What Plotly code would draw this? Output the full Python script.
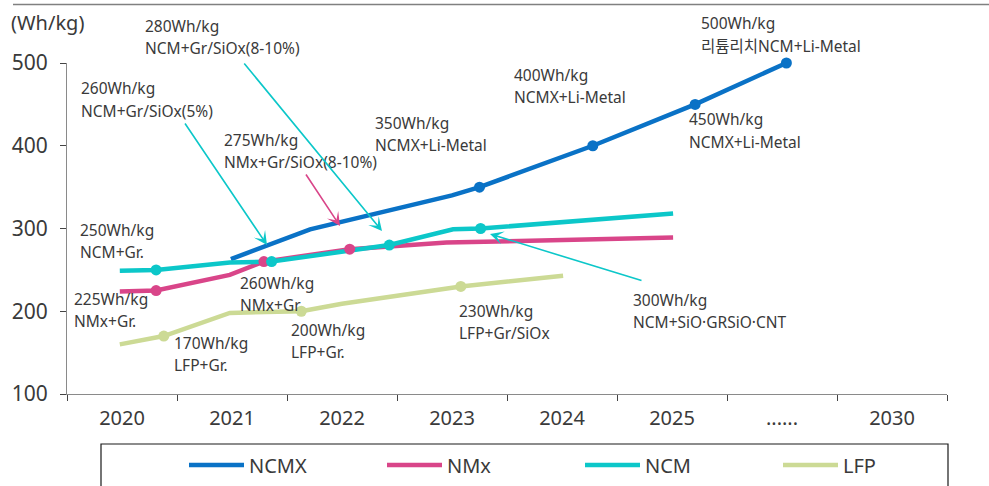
import plotly.graph_objects as go

# ---------------------------------------------------------------- data
years = ["2020", "2021", "2022", "2023", "2024", "2025", "......", "2030"]

# x is measured in year slots: 0 is the left edge of the 2020 slot, 1 slot per label
ncmx_x = [1.49, 2.21, 3.50, 3.75, 4.78, 5.71, 6.54]
ncmx_y = [263, 299, 340, 350, 400, 450, 500]
ncmx_pts = [3, 4, 5, 6]

nmx_x = [0.48, 0.81, 1.48, 1.79, 2.57, 3.45, 5.51]
nmx_y = [224, 225, 244, 260, 275, 283, 289]
nmx_pts = [1, 3, 4]

ncm_x = [0.48, 0.81, 1.48, 1.86, 2.93, 3.51, 3.76, 5.51]
ncm_y = [249, 250, 259, 260, 280, 299, 300, 318]
ncm_pts = [1, 3, 4, 6]

lfp_x = [0.48, 0.88, 1.48, 2.13, 2.50, 3.58, 4.51]
lfp_y = [160, 170, 198, 200, 209, 230, 243]
lfp_pts = [1, 3, 5]

series = [
    ("NCMX", ncmx_x, ncmx_y, ncmx_pts, "#0A72C6"),
    ("NMx", nmx_x, nmx_y, nmx_pts, "#D94589"),
    ("NCM", ncm_x, ncm_y, ncm_pts, "#0CC7C9"),
    ("LFP", lfp_x, lfp_y, lfp_pts, "#CCDA95"),
]

# callout texts (two lines each)
callouts = [
    ("250Wh/kg", "NCM+Gr."),
    ("225Wh/kg", "NMx+Gr."),
    ("170Wh/kg", "LFP+Gr."),
    ("260Wh/kg", "NMx+Gr"),
    ("200Wh/kg", "LFP+Gr."),
    ("230Wh/kg", "LFP+Gr/SiOx"),
    ("300Wh/kg", "NCM+SiO·GRSiO·CNT"),
    ("400Wh/kg", "NCMX+Li-Metal"),
    ("450Wh/kg", "NCMX+Li-Metal"),
    ("500Wh/kg", "리튬리치NCM+Li-Metal"),
    ("350Wh/kg", "NCMX+Li-Metal"),
    ("280Wh/kg", "NCM+Gr/SiOx(8-10%)"),
    ("260Wh/kg", "NCM+Gr/SiOx(5%)"),
    ("275Wh/kg", "NMx+Gr/SiOx(8-10%)"),
]

# ---------------------------------------------------------------- layout helpers
W, H = 989, 486
L, R, T, B = 67, 42, 63, 92
PW, PH = W - L - R, H - T - B
FONT = "Noto Sans, Noto Sans CJK KR, sans-serif"
TXT = "#3a3a3a"


def paper(px, py):
    return (px - L) / PW, (H - B - py) / PH


# left edge / first baseline of each callout, in screen pixels
callout_pos = [
    (78, 235), (72, 304), (172, 348), (238, 288), (289, 335), (457, 316),
    (631, 305), (512, 80), (687, 125), (699, 29), (373, 128), (143, 31),
    (79, 94), (222, 145),
]
LINE_GAP = 22.5

# arrows: (tail px, tip px, colour)
arrows = [
    ((184, 122), (267, 245), "#0CC7C9"),
    ((243, 62), (382, 231), "#0CC7C9"),
    ((305, 173), (340, 226), "#D94589"),
    ((643, 281), (490, 234), "#0CC7C9"),
]

fig = go.Figure()

for name, xs, ys, pts, col in series:
    fig.add_trace(go.Scatter(
        x=xs, y=ys, mode="lines", name=name,
        line=dict(color=col, width=4.5), cliponaxis=False,
    ))
for name, xs, ys, pts, col in series:
    fig.add_trace(go.Scatter(
        x=[xs[i] for i in pts], y=[ys[i] for i in pts], mode="markers",
        marker=dict(color=col, size=11), showlegend=False, cliponaxis=False,
        hoverinfo="skip",
    ))

annotations = []
for (l1, l2), (px, py) in zip(callouts, callout_pos):
    for k, line in enumerate((l1, l2)):
        xx, yy = paper(px, py + k * LINE_GAP - 5.5)
        annotations.append(dict(
            x=xx, y=yy, xref="paper", yref="paper", text=line,
            showarrow=False, xanchor="left", yanchor="middle",
            font=dict(family=FONT, size=15.5, color=TXT),
        ))

for (tx, ty), (hx, hy), col in arrows:
    xx, yy = paper(hx, hy)
    annotations.append(dict(
        x=xx, y=yy, xref="paper", yref="paper", text="",
        showarrow=True, ax=tx - hx, ay=ty - hy,
        arrowhead=3, arrowsize=1.4, arrowwidth=1.6, arrowcolor=col,
        standoff=0, startstandoff=0,
    ))

# unit caption
ux, uy = paper(9, 23)
annotations.append(dict(
    x=ux, y=uy, xref="paper", yref="paper", text="(Wh/kg)", showarrow=False,
    xanchor="left", yanchor="middle", font=dict(family=FONT, size=20, color=TXT),
))

shapes = []
# rule across the top
x0, y0 = paper(13, 4.5)
x1, _ = paper(989, 4.5)
shapes.append(dict(type="line", xref="paper", yref="paper", x0=x0, x1=x1,
                   y0=y0, y1=y0, line=dict(color="#808080", width=1.6)))
# legend frame
fx0, fy0 = paper(101, 444)
fx1, fy1 = paper(948, 500)
shapes.append(dict(type="rect", xref="paper", yref="paper", x0=fx0, x1=fx1,
                   y0=fy1, y1=fy0, line=dict(color="#1a1a1a", width=1.2),
                   fillcolor="rgba(0,0,0,0)"))

fig.update_layout(
    width=W, height=H,
    margin=dict(l=L, r=R, t=T, b=B, autoexpand=False),
    paper_bgcolor="white", plot_bgcolor="white",
    font=dict(family=FONT, color=TXT),
    showlegend=True,
    legend=dict(
        orientation="h",
        xref="container", yref="container",
        x=184 / W, y=1 - 465 / H, xanchor="left", yanchor="middle",
        font=dict(family=FONT, size=20, color=TXT),
        itemwidth=55, entrywidth=128, bgcolor="rgba(0,0,0,0)",
        itemclick=False, itemdoubleclick=False,
    ),
    annotations=annotations,
    shapes=shapes,
    xaxis=dict(
        range=[0, len(years)],
        tickmode="array",
        tickvals=[i + 0.5 for i in range(len(years))],
        ticktext=years,
        ticks="",
        ticklabelstandoff=6,
        showgrid=False, zeroline=False,
        showline=True, linecolor="#8a8a8a", linewidth=1.2,
        tickfont=dict(family=FONT, size=20, color=TXT),
        minor=dict(tickvals=list(range(len(years) + 1)), ticks="outside",
                   ticklen=6, tickcolor="#444", tickwidth=1.2, showgrid=False),
        fixedrange=True,
    ),
    yaxis=dict(
        range=[100, 500],
        tickmode="array", tickvals=[100, 200, 300, 400, 500],
        ticks="outside", ticklen=6, tickcolor="#444", tickwidth=1.2,
        showgrid=False, zeroline=False,
        showline=True, linecolor="#8a8a8a", linewidth=1.2,
        tickfont=dict(family=FONT, size=21, color=TXT),
        ticklabelstandoff=8,
        fixedrange=True,
    ),
)

fig.write_html("out.html")
